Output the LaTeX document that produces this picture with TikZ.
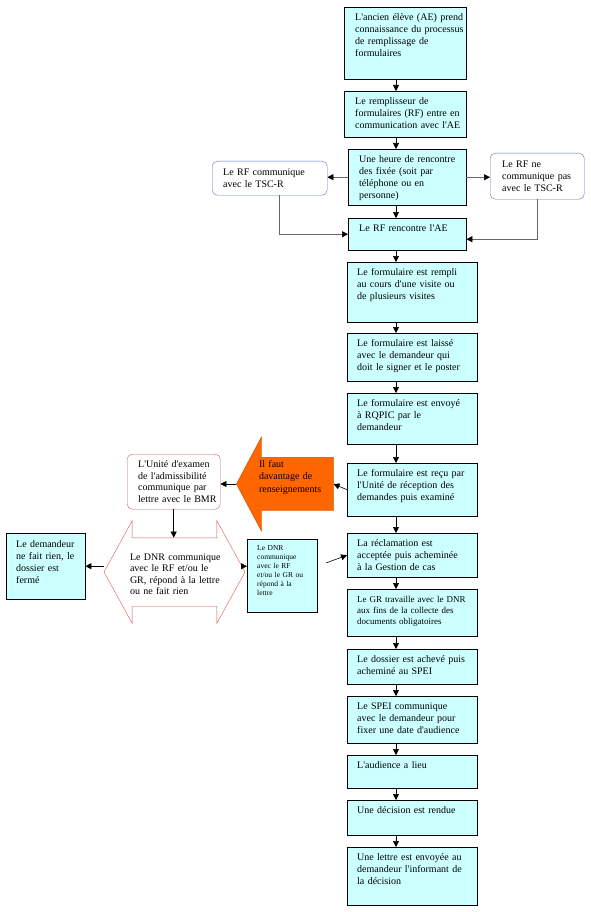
\documentclass[tikz,border=0pt]{standalone}
\usepackage{fontspec}
\setmainfont{Liberation Serif}[Ligatures=TeXOff]
\usetikzlibrary{arrows.meta,shapes.arrows}

\definecolor{stepcyan}{RGB}{204,255,255}
\definecolor{sideblue}{RGB}{88,118,186}
\definecolor{examred}{RGB}{222,88,88}
\definecolor{moreorange}{RGB}{255,102,0}

\begin{document}
\begin{tikzpicture}[
    x=1pt, y=-1pt,
    keeplines/.style={execute at begin node={\rightskip=0pt plus 1fil minus 100pt\relax}},
    stepbox/.style={rectangle, draw=black, fill=stepcyan, anchor=north west,
                align=left, keeplines, inner xsep=10pt, inner ysep=0pt, text width=110pt,
                text height=13.5pt, font=\fontsize{10}{12}\selectfont},
    sidebox/.style={rectangle, draw=sideblue, fill=white, rounded corners=5pt,
                anchor=north west, align=left, keeplines, font=\fontsize{10}{11.7}\selectfont},
    exambox/.style={sidebox, draw=examred},
    arrow/.style={-{Triangle[length=6pt, width=6pt]}, semithick},
    sidearrow/.style={-{Triangle[length=6pt, width=6pt, black]}, semithick, black!60}
]

\path[use as bounding box, fill=white] (0,0) rectangle (590,912);
\coordinate (spine) at (396,0);

% Main column
\node[stepbox, inner xsep=11pt, text width=100pt, text depth=58.5pt] (aware) at (344,7)
    {L'ancien élève (AE) prend\\connaissance du processus\\de remplissage de\\formulaires};
\node[stepbox, inner xsep=11pt, text width=100pt, text depth=32.5pt] (contact) at (344,91)
    {Le remplisseur de\\formulaires (RF) entre en\\communication avec l'AE};
\node[stepbox, inner xsep=11pt, text width=96pt, text depth=42.5pt] (meeting) at (348,149)
    {Une heure de rencontre\\des fixée (soit par\\téléphone ou en\\personne)};
\node[stepbox, inner xsep=11pt, text width=96pt, text depth=18.5pt, align=center] (meets) at (348,218)
    {Le RF rencontre l'AE};
\node[stepbox, text depth=46.5pt] (filled) at (347,262)
    {Le formulaire est rempli\\au cours d'une visite ou\\de plusieurs visites};
\node[stepbox, text depth=34.5pt] (signs) at (347,333)
    {Le formulaire est laissé\\avec le demandeur qui\\doit le signer et le poster};
\node[stepbox, text depth=37.5pt] (sent) at (347,393)
    {Le formulaire est envoyé\\à RQPIC par le\\demandeur};
\node[stepbox, text depth=39.5pt] (received) at (347,463)
    {Le formulaire est reçu par\\l'Unité de réception des\\demandes puis examiné};
\node[stepbox, text depth=30.5pt] (accepted) at (347,533)
    {La réclamation est\\acceptée puis acheminée\\à la Gestion de cas};
\node[stepbox, text depth=33.5pt, font=\fontsize{9}{11}\selectfont] (gathers) at (347,589)
    {Le GR travaille avec le DNR\\aux fins de la collecte des\\documents obligatoires};
\node[stepbox, text depth=21.5pt] (done) at (347,649)
    {Le dossier est achevé puis\\acheminé au SPEI};
\node[stepbox, text depth=33.5pt] (spei) at (347,696)
    {Le SPEI communique\\avec le demandeur pour\\fixer une date d'audience};
\node[stepbox, text depth=19.5pt] (hearing) at (347,755) {L'audience a lieu};
\node[stepbox, text depth=21.5pt] (decision) at (347,800) {Une décision est rendue};
\node[stepbox, text depth=44.5pt] (letter) at (347,847)
    {Une lettre est envoyée au\\demandeur l'informant de\\la décision};

\foreach \a/\b in {aware/contact, contact/meeting, meeting/meets, meets/filled,
                   filled/signs, signs/sent, sent/received, received/accepted,
                   accepted/gathers, gathers/done, done/spei, spei/hearing,
                   hearing/decision, decision/letter}
    \draw[arrow] (\a.south -| spine) -- (\b.north -| spine);

% Side boxes for the TSC-R
\node[sidebox, inner xsep=11pt, text width=93pt, minimum height=34pt] (tscyes) at (212,161)
    {Le RF communique\\avec le TSC-R};
\node[sidebox, inner xsep=12pt, text width=70pt, minimum height=46pt] (tscno) at (490,153)
    {Le RF ne\\communique pas\\avec le TSC-R};

\draw[sidearrow] (meeting.west) -- (meeting.west -| tscyes.east);
\draw[sidearrow] (meeting.east) -- (meeting.east -| tscno.west);
\draw[sidearrow] ([xshift=9.5pt]tscyes.south) |- (meets.west);
\draw[sidearrow] (tscno.south) |- ([yshift=-5pt]meets.east);

% More information needed
\node[single arrow, shape border rotate=180, fill=moreorange, draw=moreorange!80!black,
      single arrow head extend=20.5pt, single arrow tip angle=124, minimum height=97pt,
      text width=66pt, inner xsep=3pt, inner ysep=2.5pt, text height=7pt, text depth=41pt,
      align=left, keeplines, font=\fontsize{10}{12.5}\selectfont] (more) at (292,484)
    {Il faut\\davantage de\\renseignements};

\node[exambox, inner xsep=11pt, text width=71pt, minimum height=55pt] (exam) at (127,454)
    {L'Unité d'examen\\de l'admissibilité\\communique par\\lettre avec le BMR};

\draw[arrow] (received.west) -- (more.tail);
\draw[arrow] (more.tip) -- (more.tip -| exam.east);

% Replies of the DNR
\node[double arrow, draw=examred, fill=white, double arrow head extend=17pt,
      double arrow tip angle=122.5, minimum height=141pt, text width=89pt,
      inner xsep=0pt, inner ysep=12pt, text height=10pt, text depth=34pt, align=left,
      keeplines, font=\fontsize{10}{11.5}\selectfont] (dnr) at (174.5,572)
    {Le DNR communique\\avec le RF et/ou le\\GR, répond à la lettre\\ou ne fait rien};

\node[stepbox, text width=59pt, text height=14pt, text depth=52pt] (quit) at (6,533)
    {Le demandeur\\ne fait rien, le\\dossier est\\fermé};
\node[stepbox, text width=50pt, text height=11pt, text depth=62pt,
      font=\fontsize{7.5}{9}\selectfont] (dnrsmall) at (247,539)
    {Le DNR\\communique\\avec le RF\\et/ou le GR ou\\répond à la\\lettre};
\coordinate (dnrout) at (326,563);

\draw[arrow] (exam.south) -- (exam.south |- dnr.north);
\draw[arrow] (quit.east -| dnr.west) -- (quit.east);
\draw[arrow] (quit.east -| dnr.east) -- (quit.east -| dnrsmall.west);
\draw[arrow] (dnrout) -- (accepted.west);

\end{tikzpicture}
\end{document}
